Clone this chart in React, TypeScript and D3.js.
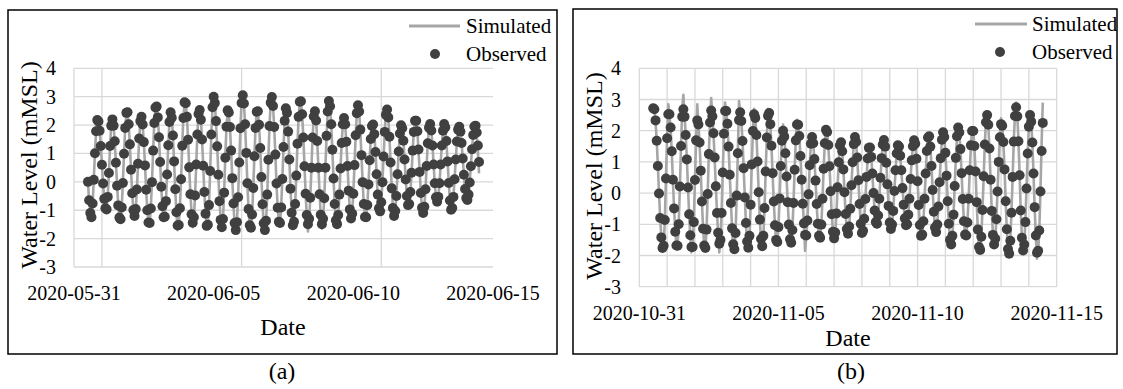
import React from "react";
import * as d3 from "d3";

// ---------- DATA (hourly water levels, mMSL) ----------
const startA = Date.UTC(2020, 4, 31, 12);
const startB = Date.UTC(2020, 9, 31, 12);

const obsA = [
0, -0.65, -1.1, -1.25, -0.76, 0.07, 1.01, 1.78, 2.18, 2.13,
1.8, 1.26, 0.6, -0.06, -0.6, -0.93, -0.97, -0.53, 0.31, 1.26,
1.98, 2.2, 1.98, 1.43, 0.67, -0.14, -0.83, -1.26, -1.32, -0.9,
-0.04, 0.99, 1.9, 2.43, 2.45, 2.03, 1.32, 0.43, -0.4, -0.99,
-1.2, -0.96, -0.27, 0.64, 1.53, 2.14, 2.29, 2.02, 1.4, 0.58,
-0.28, -1.0, -1.43, -1.45, -0.94, -0.01, 1.1, 2.07, 2.62, 2.65,
2.27, 1.57, 0.7, -0.17, -0.86, -1.25, -1.23, -0.68, 0.26, 1.29,
2.11, 2.45, 2.26, 1.63, 0.72, -0.26, -1.07, -1.54, -1.52, -0.93,
0.09, 1.27, 2.25, 2.8, 2.77, 2.29, 1.48, 0.51, -0.44, -1.14,
-1.44, -1.25, -0.48, 0.61, 1.67, 2.39, 2.53, 2.19, 1.49, 0.57,
-0.36, -1.12, -1.55, -1.51, -0.82, 0.38, 1.67, 2.63, 3.0, 2.78,
2.14, 1.25, 0.25, -0.68, -1.34, -1.6, -1.31, -0.38, 0.85, 1.94,
2.52, 2.44, 1.93, 1.1, 0.13, -0.76, -1.45, -1.7, -1.42, -0.54,
0.68, 1.89, 2.78, 3.05, 2.76, 2.03, 1.02, -0.05, -0.96, -1.53,
-1.62, -1.15, -0.22, 0.9, 1.9, 2.47, 2.49, 2.01, 1.19, 0.17,
-0.79, -1.46, -1.7, -1.37, -0.45, 0.78, 1.97, 2.79, 2.99, 2.67,
1.93, 0.96, -0.06, -0.91, -1.41, -1.45, -0.9, 0.1, 1.23, 2.15,
2.59, 2.43, 1.77, 0.79, -0.24, -1.09, -1.53, -1.41, -0.78, 0.22,
1.34, 2.29, 2.82, 2.84, 2.38, 1.56, 0.55, -0.42, -1.17, -1.49,
-1.3, -0.56, 0.5, 1.56, 2.3, 2.49, 2.16, 1.44, 0.5, -0.44,
-1.16, -1.49, -1.3, -0.58, 0.5, 1.62, 2.48, 2.85, 2.66, 2.03,
1.13, 0.12, -0.78, -1.35, -1.49, -1.17, -0.45, 0.47, 1.37, 2.03,
2.25, 2.03, 1.41, 0.56, -0.31, -0.97, -1.29, -1.12, -0.42, 0.59,
1.64, 2.42, 2.7, 2.48, 1.84, 0.94, -0.01, -0.78, -1.24, -1.25,
-0.82, -0.09, 0.76, 1.51, 1.97, 2.02, 1.68, 1.05, 0.27, -0.45,
-0.93, -1.04, -0.72, -0.01, 0.89, 1.76, 2.36, 2.55, 2.27, 1.59,
0.68, -0.23, -0.92, -1.2, -1.03, -0.5, 0.27, 1.07, 1.7, 1.99,
1.89, 1.45, 0.79, 0.08, -0.5, -0.82, -0.78, -0.36, 0.32, 1.1,
1.76, 2.15, 2.15, 1.78, 1.14, 0.35, -0.39, -0.91, -1.1, -0.88,
-0.26, 0.56, 1.36, 1.91, 2.04, 1.81, 1.28, 0.61, -0.05, -0.54,
-0.7, -0.53, -0.05, 0.61, 1.28, 1.8, 2.04, 1.92, 1.44, 0.72,
-0.04, -0.66, -0.98, -0.92, -0.53, 0.09, 0.79, 1.42, 1.84, 1.94,
1.77, 1.37, 0.82, 0.25, -0.25, -0.57, -0.64, -0.45, -0.02, 0.55,
1.15, 1.65, 1.95, 1.98, 1.74, 1.28, 0.7
];

const simA = [
0, -0.7, -1.1, -1.2, -0.8, 0.1, 1.0, 1.8, 2.2, 2.1,
1.8, 1.3, 0.6, -0.1, -0.6, -0.9, -1.0, -0.5, 0.3, 1.3,
2.0, 2.2, 2.0, 1.4, 0.7, -0.1, -0.8, -1.3, -1.3, -0.9,
0.0, 1.0, 1.9, 2.4, 2.5, 2.0, 1.3, 0.4, -0.4, -1.0,
-1.2, -1.0, -0.3, 0.6, 1.5, 2.1, 2.3, 2.0, 1.4, 0.6,
-0.3, -1.0, -1.4, -1.5, -0.9, 0.0, 1.1, 2.1, 2.6, 2.7,
2.3, 1.6, 0.7, -0.2, -0.9, -1.3, -1.2, -0.7, 0.3, 1.3,
2.1, 2.5, 2.3, 1.6, 0.7, -0.3, -1.1, -1.7, -1.5, -0.9,
0.1, 1.3, 2.3, 2.8, 2.8, 2.3, 1.5, 0.5, -0.4, -1.1,
-1.6, -1.3, -0.5, 0.6, 1.7, 2.4, 2.5, 2.2, 1.5, 0.6,
-0.4, -1.1, -1.6, -1.5, -0.8, 0.4, 1.7, 2.6, 3.0, 2.8,
2.1, 1.3, 0.3, -0.7, -1.3, -1.6, -1.3, -0.4, 0.9, 1.9,
2.5, 2.4, 1.9, 1.1, 0.1, -0.8, -1.5, -1.7, -1.4, -0.5,
0.7, 1.9, 2.8, 3.0, 2.8, 2.0, 1.0, -0.1, -1.0, -1.5,
-1.6, -1.2, -0.2, 0.9, 1.9, 2.5, 2.5, 2.0, 1.2, 0.2,
-0.8, -1.5, -1.7, -1.4, -0.5, 0.8, 2.0, 2.8, 3.0, 2.7,
1.9, 1.0, -0.1, -0.9, -1.4, -1.5, -0.9, 0.1, 1.2, 2.2,
2.6, 2.4, 1.8, 0.8, -0.2, -1.1, -1.6, -1.4, -0.8, 0.2,
1.3, 2.3, 2.8, 2.8, 2.4, 1.6, 0.6, -0.4, -1.2, -1.75,
-1.3, -0.6, 0.5, 1.6, 2.3, 2.5, 2.2, 1.4, 0.5, -0.4,
-1.2, -1.65, -1.3, -0.6, 0.5, 1.6, 2.5, 2.9, 2.7, 2.0,
1.1, 0.1, -0.8, -1.4, -1.5, -1.2, -0.5, 0.5, 1.4, 2.0,
2.3, 2.0, 1.4, 0.6, -0.3, -1.0, -1.3, -1.1, -0.4, 0.6,
1.6, 2.4, 2.7, 2.5, 1.8, 0.9, 0.0, -0.8, -1.2, -1.3,
-0.8, -0.1, 0.8, 1.5, 2.0, 2.0, 1.7, 1.1, 0.3, -0.5,
-0.9, -1.0, -0.7, 0.0, 0.9, 1.8, 2.4, 2.65, 2.3, 1.6,
0.7, -0.2, -0.9, -1.2, -1.0, -0.5, 0.3, 1.1, 1.7, 2.0,
1.9, 1.5, 0.8, 0.1, -0.5, -0.8, -0.8, -0.4, 0.3, 1.1,
1.8, 2.2, 2.2, 1.8, 1.1, 0.4, -0.4, -0.9, -1.1, -0.9,
-0.3, 0.6, 1.4, 1.9, 2.1, 1.8, 1.3, 0.6, -0.1, -0.5,
-0.7, -0.5, -0.1, 0.6, 1.3, 1.8, 2.1, 1.9, 1.4, 0.7,
0.0, -0.7, -1.0, -0.9, -0.5, 0.1, 0.8, 1.4, 1.8, 2.0,
1.8, 1.4, 0.8, 0.3, -0.3, -0.6, -0.6, -0.5, 0.0, 0.6,
1.2, 1.7, 2.0, 2.0, 1.7, 1.1, 0.3
];

const obsB = [
2.72, 2.69, 2.33, 1.68, 0.87, -0.01, -0.8, -1.42, -1.76, -1.69,
-0.86, 0.47, 1.76, 2.53, 2.53, 2.1, 1.34, 0.43, -0.49, -1.24,
-1.68, -1.69, -1.0, 0.21, 1.51, 2.45, 2.69, 2.45, 1.86, 1.08,
0.18, -0.68, -1.35, -1.73, -1.73, -0.93, 0.42, 1.69, 2.33, 2.2,
1.62, 0.72, -0.27, -1.14, -1.68, -1.76, -1.17, -0.03, 1.25, 2.26,
2.65, 2.46, 1.92, 1.14, 0.22, -0.64, -1.27, -1.62, -1.5, -0.64,
0.66, 1.9, 2.63, 2.63, 2.22, 1.49, 0.59, -0.32, -1.13, -1.64,
-1.8, -1.28, -0.08, 1.28, 2.34, 2.59, 2.31, 1.67, 0.8, -0.14,
-0.96, -1.55, -1.75, -1.37, -0.37, 0.92, 1.99, 2.53, 2.41, 1.86,
1.01, 0.03, -0.85, -1.47, -1.7, -1.37, -0.48, 0.69, 1.78, 2.48,
2.57, 2.21, 1.52, 0.64, -0.27, -1.03, -1.5, -1.57, -1.09, -0.17,
0.87, 1.68, 2.0, 1.81, 1.28, 0.53, -0.29, -1.01, -1.48, -1.59,
-1.18, -0.32, 0.75, 1.69, 2.2, 2.19, 1.83, 1.19, 0.43, -0.34,
-0.97, -1.34, -1.36, -0.88, -0.04, 0.89, 1.58, 1.8, 1.6, 1.09,
0.4, -0.35, -0.98, -1.37, -1.43, -1.01, -0.18, 0.78, 1.6, 2.03,
1.96, 1.54, 0.86, 0.06, -0.68, -1.24, -1.45, -1.26, -0.65, 0.19,
0.99, 1.53, 1.63, 1.34, 0.76, 0.03, -0.67, -1.15, -1.3, -1.07,
-0.5, 0.25, 0.99, 1.57, 1.8, 1.64, 1.14, 0.41, -0.35, -0.98,
-1.28, -1.21, -0.82, -0.19, 0.52, 1.11, 1.45, 1.46, 1.16, 0.63,
0.0, -0.56, -0.93, -0.98, -0.72, -0.18, 0.49, 1.12, 1.56, 1.7,
1.49, 0.97, 0.28, -0.41, -0.94, -1.15, -1.01, -0.57, 0.07, 0.73,
1.27, 1.53, 1.49, 1.2, 0.73, 0.16, -0.37, -0.81, -1.03, -1.0,
-0.69, -0.18, 0.45, 1.05, 1.5, 1.69, 1.58, 1.1, 0.38, -0.38,
-1.02, -1.37, -1.33, -0.9, -0.18, 0.63, 1.35, 1.78, 1.82, 1.49,
0.87, 0.1, -0.6, -1.1, -1.25, -1.01, -0.43, 0.35, 1.12, 1.71,
1.95, 1.8, 1.29, 0.56, -0.26, -0.98, -1.5, -1.65, -1.37, -0.69,
0.23, 1.13, 1.82, 2.1, 1.94, 1.41, 0.64, -0.19, -0.9, -1.33,
-1.36, -0.94, -0.18, 0.73, 1.53, 1.99, 1.99, 1.51, 0.69, -0.29,
-1.17, -1.73, -1.82, -1.4, -0.54, 0.54, 1.56, 2.27, 2.5, 2.19,
1.43, 0.43, -0.57, -1.34, -1.65, -1.46, -0.84, 0.05, 1.0, 1.79,
2.21, 2.16, 1.64, 0.76, -0.26, -1.16, -1.79, -1.94, -1.53, -0.63,
0.52, 1.65, 2.47, 2.75, 2.46, 1.66, 0.57, -0.56, -1.43, -1.84,
-1.65, -0.93, 0.15, 1.27, 2.13, 2.5, 2.29, 1.62, 0.63, -0.45,
-1.36, -1.91, -1.85, -1.2, 0.05, 1.35, 2.25
];

const simB = [
2.8, 2.7, 2.3, 1.7, 0.9, 0.0, -0.8, -1.4, -1.8, -1.7,
-0.9, 0.5, 1.8, 2.85, 2.5, 2.1, 1.3, 0.4, -0.5, -1.2,
-1.7, -1.7, -1.0, 0.2, 1.5, 2.7, 3.15, 2.5, 1.9, 1.1,
0.2, -0.7, -1.4, -1.9, -1.7, -0.9, 0.4, 1.7, 2.85, 2.2,
1.6, 0.7, -0.3, -1.1, -1.7, -1.8, -1.2, 0.0, 1.3, 2.3,
3.05, 2.5, 1.9, 1.1, 0.2, -0.6, -1.3, -1.9, -1.5, -0.6,
0.7, 1.9, 2.9, 2.6, 2.2, 1.5, 0.6, -0.3, -1.1, -1.9,
-1.8, -1.3, -0.1, 1.3, 2.95, 2.6, 2.3, 1.7, 0.8, -0.1,
-1.0, -1.6, -1.8, -1.4, -0.4, 0.9, 2.0, 2.7, 2.4, 1.9,
1.0, 0.0, -0.9, -1.5, -1.8, -1.4, -0.5, 0.7, 1.8, 2.7,
2.6, 2.2, 1.5, 0.6, -0.3, -1.0, -1.6, -1.6, -1.1, -0.2,
0.9, 1.7, 2.2, 1.8, 1.3, 0.5, -0.3, -1.0, -1.6, -1.6,
-1.2, -0.3, 0.8, 1.7, 2.35, 2.2, 1.8, 1.2, 0.4, -0.3,
-1.0, -1.85, -1.4, -0.9, 0.0, 0.9, 1.6, 1.9, 1.6, 1.1,
0.4, -0.4, -1.0, -1.5, -1.4, -1.0, -0.2, 0.8, 1.6, 2.1,
2.0, 1.5, 0.9, 0.1, -0.7, -1.2, -1.5, -1.3, -0.7, 0.2,
1.0, 1.6, 1.7, 1.3, 0.8, 0.0, -0.7, -1.2, -1.4, -1.1,
-0.5, 0.3, 1.0, 1.6, 1.9, 1.6, 1.1, 0.4, -0.4, -1.0,
-1.35, -1.2, -0.8, -0.2, 0.5, 1.1, 1.5, 1.5, 1.2, 0.6,
0.0, -0.6, -0.95, -1.1, -0.7, -0.2, 0.5, 1.1, 1.6, 1.8,
1.5, 1.0, 0.3, -0.4, -0.9, -1.25, -1.0, -0.6, 0.1, 0.7,
1.3, 1.6, 1.5, 1.2, 0.7, 0.2, -0.4, -0.8, -1.1, -1.0,
-0.7, -0.2, 0.5, 1.1, 1.5, 1.8, 1.6, 1.1, 0.4, -0.4,
-1.0, -1.45, -1.3, -0.9, -0.2, 0.6, 1.4, 1.9, 1.8, 1.5,
0.9, 0.1, -0.6, -1.1, -1.3, -1.0, -0.4, 0.4, 1.1, 1.7,
2.05, 1.8, 1.3, 0.6, -0.3, -1.0, -1.5, -1.75, -1.4, -0.7,
0.2, 1.1, 1.8, 2.2, 1.9, 1.4, 0.6, -0.2, -0.9, -1.4,
-1.4, -0.9, -0.2, 0.7, 1.5, 2.1, 2.0, 1.5, 0.7, -0.3,
-1.2, -1.8, -1.9, -1.4, -0.5, 0.5, 1.6, 2.3, 2.6, 2.2,
1.4, 0.4, -0.6, -1.3, -1.75, -1.5, -0.8, 0.1, 1.0, 1.8,
2.4, 2.2, 1.6, 0.8, -0.3, -1.2, -1.85, -2.0, -1.5, -0.6,
0.5, 1.7, 2.5, 2.9, 2.5, 1.7, 0.6, -0.6, -1.4, -1.9,
-1.7, -0.9, 0.2, 1.3, 2.1, 2.6, 2.3, 1.6, 0.6, -0.5,
-1.4, -2.1, -1.9, -1.2, 0.1, 1.6, 2.9
];

const ticksA = ["2020-05-31", "2020-06-05", "2020-06-10", "2020-06-15"];
const ticksB = ["2020-10-31", "2020-11-05", "2020-11-10", "2020-11-15"];
const yTicks = [4, 3, 2, 1, 0, -1, -2, -3];
const seriesNames = ["Simulated", "Observed"];
const yTitle = "Water Level (mMSL)";
const xTitle = "Date";

// ---------- STYLE ----------
const FONT = "Liberation Serif, Times New Roman, serif";
const GRID = "#D9D9D9";
const LINE = "#A6A6A6";
const DOT = "#404040";

type Cfg = {
  box: [number, number, number, number];
  plot: { l: number; r: number; t: number; b: number };
  obs: number[];
  sim: number[];
  start: number;
  ticks: string[];
  gridStepDays: number;
  caption: string;
  captionX: number;
  yLabelX: number;
  yTitleX: number;
  yTitleY: number;
  xTickY: number;
  xTitleX: number;
  xTitleY: number;
  leg: { lx1: number; lx2: number; ly: number; tx: number; dx: number; dy: number };
};

function Panel({ c }: { c: Cfg }) {
  const d0 = new Date(c.ticks[0] + "T00:00:00Z");
  const d1 = new Date(c.ticks[c.ticks.length - 1] + "T00:00:00Z");
  const x = d3.scaleUtc().domain([d0, d1]).range([c.plot.l, c.plot.r]);
  const y = d3.scaleLinear().domain([-3, 4]).range([c.plot.b, c.plot.t]);
  const tAt = (i: number) => new Date(c.start + i * 3600 * 1000);
  const line = d3
    .line<number>()
    .x((_, i) => x(tAt(i)))
    .y((d) => y(d));
  const vGrid = d3.utcDay.every(c.gridStepDays)!.range(d0, new Date(+d1 + 1));
  const [bx, by, bw, bh] = c.box;
  return (
    <g>
      <rect x={bx} y={by} width={bw} height={bh} fill="#fff" stroke="#000" strokeWidth={1.5} />
      {yTicks.map((v) => (
        <line key={"h" + v} x1={c.plot.l} x2={c.plot.r} y1={y(v)} y2={y(v)} stroke={GRID} strokeWidth={1.3} />
      ))}
      {vGrid.map((d, i) => (
        <line key={"v" + i} x1={x(d)} x2={x(d)} y1={c.plot.t} y2={c.plot.b} stroke={GRID} strokeWidth={1.3} />
      ))}
      <path d={line(c.sim) || ""} fill="none" stroke={LINE} strokeWidth={2.6} strokeLinejoin="round" />
      {c.obs.map((v, i) => (
        <circle key={"o" + i} cx={x(tAt(i))} cy={y(v)} r={5} fill={DOT} />
      ))}
      {yTicks.map((v) => (
        <text key={"yl" + v} x={c.yLabelX} y={y(v) + 7} textAnchor="end" fontSize={20} fontFamily={FONT} fill="#000">
          {v}
        </text>
      ))}
      {c.ticks.map((t) => (
        <text
          key={t}
          x={x(new Date(t + "T00:00:00Z"))}
          y={c.xTickY}
          textAnchor="middle"
          fontSize={20}
          fontFamily={FONT}
          fill="#000"
        >
          {t}
        </text>
      ))}
      <text
        transform={`translate(${c.yTitleX},${c.yTitleY}) rotate(-90)`}
        textAnchor="middle"
        fontSize={24}
        fontFamily={FONT}
        fill="#000"
      >
        {yTitle}
      </text>
      <text x={c.xTitleX} y={c.xTitleY} textAnchor="middle" fontSize={24} fontFamily={FONT} fill="#000">
        {xTitle}
      </text>
      <line x1={c.leg.lx1} x2={c.leg.lx2} y1={c.leg.ly} y2={c.leg.ly} stroke={LINE} strokeWidth={3} />
      <text x={c.leg.tx} y={c.leg.ly + 7} fontSize={21} fontFamily={FONT} fill="#000">
        {seriesNames[0]}
      </text>
      <circle cx={c.leg.dx} cy={c.leg.dy} r={5} fill={DOT} />
      <text x={c.leg.tx} y={c.leg.dy + 7} fontSize={21} fontFamily={FONT} fill="#000">
        {seriesNames[1]}
      </text>
      <text x={c.captionX} y={379} textAnchor="middle" fontSize={24} fontFamily={FONT} fill="#000">
        {c.caption}
      </text>
    </g>
  );
}

const cfgA: Cfg = {
  box: [8, 10, 549, 344],
  plot: { l: 74, r: 493, t: 68.3, b: 267 },
  obs: obsA,
  sim: simA,
  start: startA,
  ticks: ticksA,
  gridStepDays: 5,
  caption: "(a)",
  captionX: 282,
  yLabelX: 56,
  yTitleX: 37,
  yTitleY: 165,
  xTickY: 300,
  xTitleX: 283,
  xTitleY: 335,
  leg: { lx1: 409, lx2: 460, ly: 26, tx: 466, dx: 435, dy: 54 },
};

const cfgB: Cfg = {
  box: [573, 9, 544, 345],
  plot: { l: 639.3, r: 1056.7, t: 68.3, b: 286.7 },
  obs: obsB,
  sim: simB,
  start: startB,
  ticks: ticksB,
  gridStepDays: 1,
  caption: "(b)",
  captionX: 851,
  yLabelX: 621,
  yTitleX: 602,
  yTitleY: 176,
  xTickY: 320,
  xTitleX: 848,
  xTitleY: 346,
  leg: { lx1: 975, lx2: 1027, ly: 24, tx: 1032, dx: 1000, dy: 52 },
};

export default function App() {
  return (
    <svg
      width={1123}
      height={389}
      viewBox="0 0 1123 389"
      style={{ position: "absolute", left: 0, top: 0, display: "block", background: "#fff" }}
    >
      <rect x={0} y={0} width={1123} height={389} fill="#fff" />
      <Panel c={cfgA} />
      <Panel c={cfgB} />
    </svg>
  );
}
